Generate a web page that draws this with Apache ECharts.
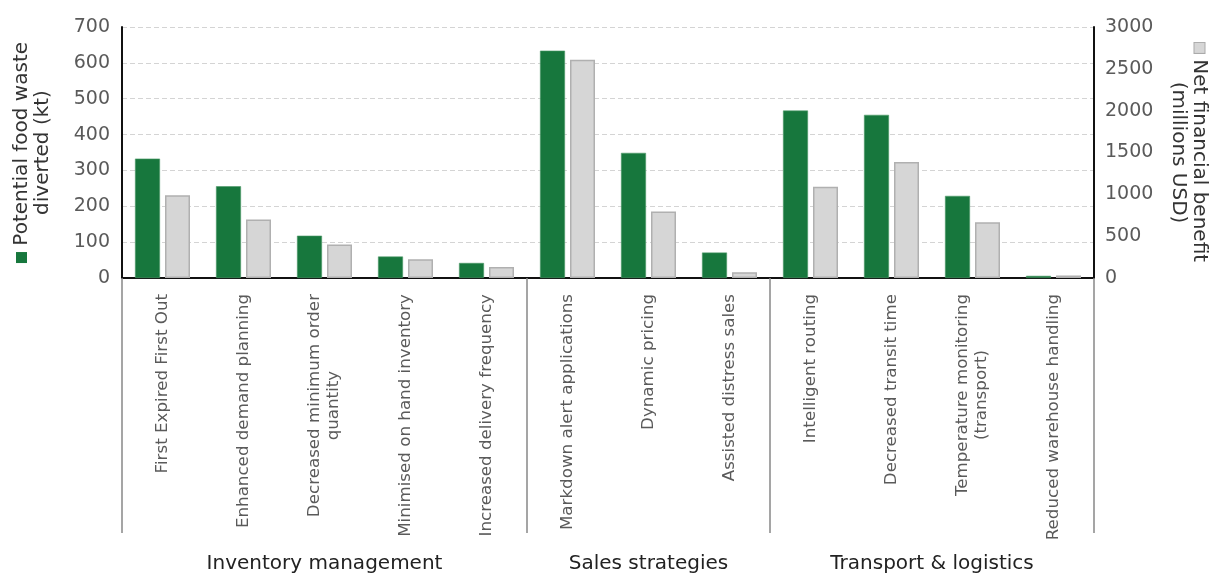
<!DOCTYPE html>
<html>
<head>
<meta charset="utf-8">
<title>Food waste interventions</title>
<script src="https://cdn.jsdelivr.net/npm/echarts@6/dist/echarts.min.js"></script>
<style>
    html, body { margin: 0; padding: 0; background: #fff; }
    #main { width: 1213px; height: 573px; }
</style>
</head>
<body>
<div id="main"></div>
<script>
// categories (x axis)
var categories = [
    'First Expired First Out',
    'Enhanced demand planning',
    'Decreased minimum order\nquantity',
    'Minimised on hand inventory',
    'Increased delivery frequency',
    'Markdown alert applications',
    'Dynamic pricing',
    'Assisted distress sales',
    'Intelligent routing',
    'Decreased transit time',
    'Temperature monitoring\n(transport)',
    'Reduced warehouse handling'
];
// groups under the categories
var groupNames = ['Inventory management', 'Sales strategies', 'Transport & logistics'];
var groupSizes = [5, 3, 4];
// kt
var foodWaste = [333, 256, 118, 60, 42, 634, 349, 71, 467, 455, 229, 6];
// millions USD
var netBenefit = [990, 700, 400, 225, 130, 2610, 795, 70, 1090, 1385, 665, 30];
var leftTicks = [0, 100, 200, 300, 400, 500, 600, 700];
var rightTicks = [0, 500, 1000, 1500, 2000, 2500, 3000];

var FONT = '"DejaVu Sans", Verdana, sans-serif';
var GREEN = '#17773d';
var GREY = '#d6d6d6';

;(function () {
    //group boundaries and centres on a 0..n value axis
    var bounds = [0];
    var centers = [];
    var acc = 0;
    for (var i = 0; i < groupSizes.length; i++) {
        centers.push(acc + groupSizes[i] / 2);
        acc += groupSizes[i];
        bounds.push(acc);
    }

    var chart = echarts.init(document.getElementById('main'));
    chart.setOption({
        animation: false,
        grid: { left: 122, right: 119, top: 27, bottom: 295, containLabel: false, outerBoundsMode: 'none' },
        xAxis: [
            {
                type: 'category',
                data: categories,
                axisLine: { lineStyle: { color: '#111', width: 2 } },
                axisTick: { show: false },
                axisLabel: {
                    interval: 0,
                    rotate: 90,
                    margin: 16,
                    color: '#5a5a5a',
                    fontSize: 16.7,
                    fontFamily: FONT,
                    lineHeight: 19,
                    formatter: function (v) {
                        return v.split('\n').map(function (s) { return '{c|' + s + '}'; }).join('\n');
                    },
                    rich: { c: { align: 'center', fontSize: 16.7, fontFamily: FONT, color: '#5a5a5a', lineHeight: 19 } }
                }
            },
            {
                //group separators + group names
                type: 'value',
                min: 0,
                max: categories.length,
                interval: 1,
                position: 'bottom',
                axisLine: { show: false },
                splitLine: { show: false },
                axisTick: {
                    show: true,
                    customValues: bounds,
                    length: 255,
                    lineStyle: { color: '#888', width: 1.5 }
                },
                axisLabel: {
                    customValues: centers,
                    margin: 276,
                    color: '#222',
                    fontSize: 20,
                    fontFamily: FONT,
                    formatter: function (v) {
                        return groupNames[centers.indexOf(v)] || '';
                    }
                }
            }
        ],
        yAxis: [
            {
                type: 'value',
                min: leftTicks[0],
                max: leftTicks[leftTicks.length - 1],
                interval: leftTicks[1] - leftTicks[0],
                name: '{sq|} Potential food waste\ndiverted (kt)',
                nameLocation: 'middle',
                nameGap: 69,
                nameTextStyle: {
                    color: '#333',
                    fontSize: 20,
                    fontFamily: FONT,
                    lineHeight: 21,
                    rich: {
                        sq: { width: 11, height: 11, backgroundColor: GREEN }
                    }
                },
                axisLine: { show: true, lineStyle: { color: '#111', width: 2 } },
                axisTick: { show: false },
                axisLabel: { color: '#5a5a5a', fontSize: 19, fontFamily: FONT, margin: 12 },
                splitLine: { lineStyle: { color: '#d4d4d4', type: [5, 3] } }
            },
            {
                type: 'value',
                min: rightTicks[0],
                max: rightTicks[rightTicks.length - 1],
                interval: rightTicks[1] - rightTicks[0],
                name: '{sq|} Net financial benefit\n(millions USD)',
                nameLocation: 'middle',
                nameRotate: -90,
                nameGap: 74,
                nameTextStyle: {
                    color: '#333',
                    fontSize: 20,
                    fontFamily: FONT,
                    lineHeight: 21,
                    rich: {
                        sq: { width: 10, height: 10, backgroundColor: GREY, borderColor: '#aaa', borderWidth: 1 }
                    }
                },
                axisLine: { show: true, lineStyle: { color: '#111', width: 2 } },
                axisTick: { show: false },
                axisLabel: {
                    color: '#5a5a5a', fontSize: 19, fontFamily: FONT, margin: 11,
                    formatter: function (v) { return String(v); }
                },
                splitLine: { show: false }
            }
        ],
        series: [
            {
                name: 'Potential food waste diverted (kt)',
                type: 'bar',
                xAxisIndex: 0,
                yAxisIndex: 0,
                data: foodWaste,
                barWidth: 25,
                barGap: '20%',
                itemStyle: { color: GREEN, borderColor: '#4f9a69', borderWidth: 0.6 }
            },
            {
                name: 'Net financial benefit (millions USD)',
                type: 'bar',
                xAxisIndex: 0,
                yAxisIndex: 1,
                data: netBenefit,
                barWidth: 25,
                itemStyle: { color: GREY, borderColor: '#b0b0b0', borderWidth: 1.5 }
            }
        ]
    });
})();
</script>
</body>
</html>
